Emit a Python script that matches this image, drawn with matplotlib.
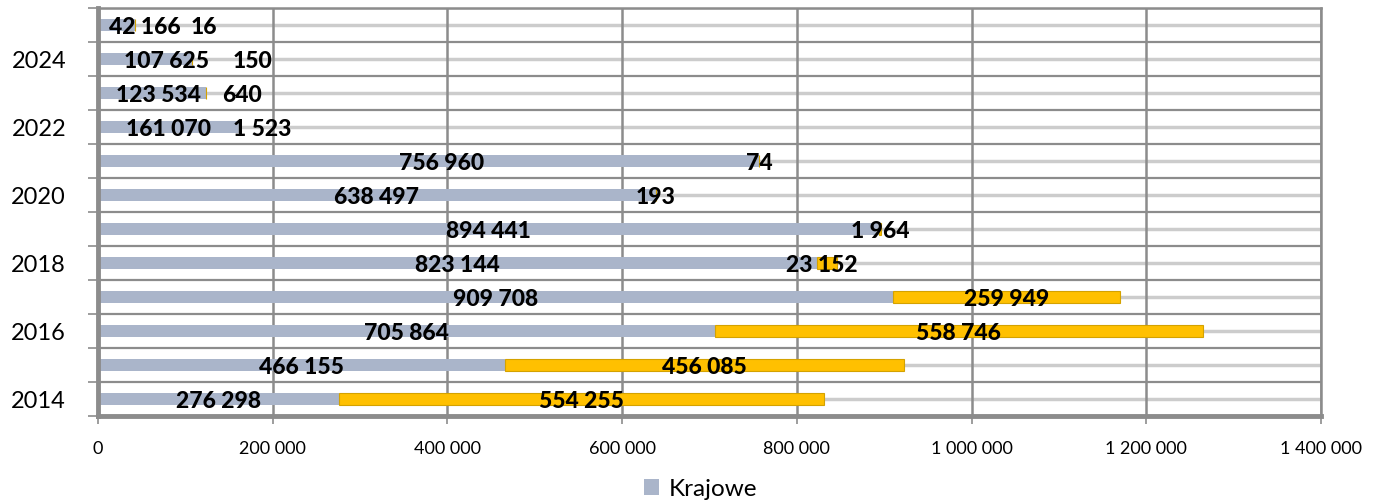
import numpy as np
import matplotlib
matplotlib.use("Agg")
import matplotlib.pyplot as plt
from matplotlib.ticker import FuncFormatter, MultipleLocator

plt.rcParams['font.family'] = ['Lato', 'DejaVu Sans']

# data
years = [2014, 2015, 2016, 2017, 2018, 2019, 2020, 2021, 2022, 2023, 2024, 2025]
krajowe = [276298, 466155, 705864, 909708, 823144, 894441, 638497, 756960, 161070, 123534, 107625, 42166]
zagraniczne = [554255, 456085, 558746, 259949, 23152, 1964, 193, 74, 1523, 640, 150, 16]

# label nudges in pixels (excel moved a few labels to avoid overlaps)
nudge_kraj = {2021: 13, 2023: 6, 2024: 21, 2025: 28}
nudge_zagr = {2018: -5, 2022: 23, 2023: 36, 2024: 60, 2025: 69}

GRID = '#8c8c8c'
BLUE = '#aab5ca'
GOLD = '#ffc000'

fig = plt.figure(figsize=(13.77, 5.04), dpi=100)
ax = fig.add_axes([98 / 1377, 1 - 416 / 504, 1223 / 1377, 408 / 504])

y = np.arange(len(years))
h = 0.34

# light lines through the category centres, dark ones on the boundaries
for yy in y:
    ax.axhline(yy, color='#cccccc', lw=2.5, zorder=0)
for yy in np.arange(-0.5, len(years), 1.0):
    ax.axhline(yy, color=GRID, lw=1.6, zorder=0.5)
for xx in range(200000, 1400001, 200000):
    ax.axvline(xx, color=GRID, lw=1.8, zorder=0.5)

ax.barh(y, krajowe, height=h, color=BLUE, label='Krajowe', zorder=2)
ax.barh(y, zagraniczne, left=krajowe, height=h, color=GOLD,
        edgecolor='#d4a200', lw=0.8, label='_nolegend_', zorder=2)

def fmt(v):
    return f"{int(v):,}".replace(',', ' ')

for i, yr in enumerate(years):
    k = krajowe[i]
    z = zagraniczne[i]
    ax.annotate(fmt(k), (k / 2, i), xytext=(nudge_kraj.get(yr, 0), -2),
                textcoords='offset pixels', ha='center', va='center',
                fontsize=16.5, fontweight='black', color='black', zorder=3)
    ax.annotate(fmt(z), (k + z / 2, i), xytext=(nudge_zagr.get(yr, 0), -2),
                textcoords='offset pixels', ha='center', va='center',
                fontsize=16.5, fontweight='black', color='black', zorder=3)

ax.set_xlim(0, 1400000)
ax.set_ylim(-0.5, len(years) - 0.5)

ax.xaxis.set_major_locator(MultipleLocator(200000))
ax.xaxis.set_major_formatter(FuncFormatter(lambda v, p: fmt(v)))
ax.tick_params(axis='x', length=6, width=1.2, color=GRID, labelsize=13, pad=12)

ax.set_yticks(y[::2])
ax.set_yticklabels([str(v) for v in years[::2]])
ax.set_yticks(np.arange(-0.5, len(years), 1.0), minor=True)
ax.tick_params(axis='y', which='major', length=0, labelsize=17, pad=23)
ax.tick_params(axis='y', which='minor', length=7, width=1.2, color=GRID)

for side in ['left', 'bottom']:
    ax.spines[side].set_color(GRID)
    ax.spines[side].set_linewidth(3.5)
for side in ['top', 'right']:
    ax.spines[side].set_color(GRID)
    ax.spines[side].set_linewidth(1.8)

fig.legend(loc='lower center', bbox_to_anchor=(0.509, -0.035), frameon=False,
           fontsize=17.5, handlelength=0.6, handleheight=0.6, handletextpad=0.4)

fig.savefig('out.png', dpi=100)
